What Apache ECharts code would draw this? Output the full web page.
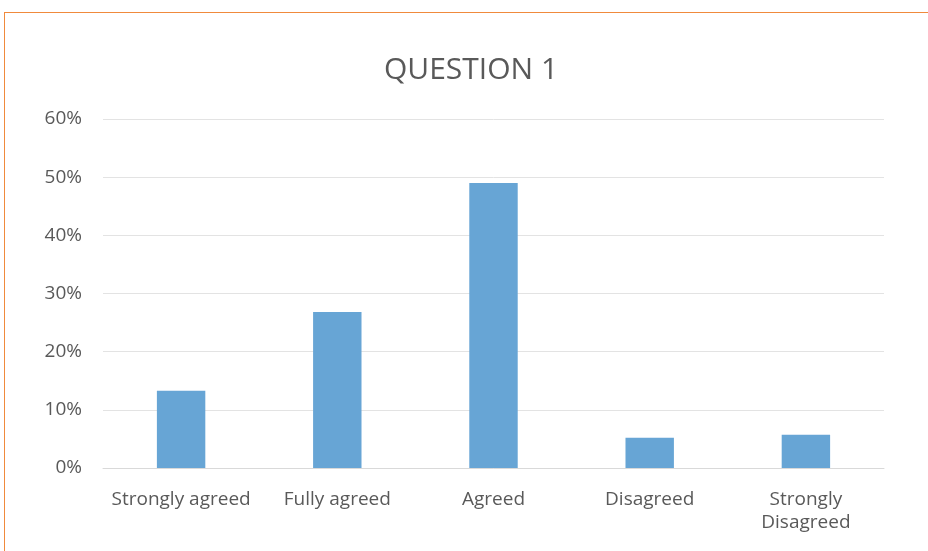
<!DOCTYPE html>
<html>
<head>
<meta charset="utf-8">
<script src="https://cdn.jsdelivr.net/npm/echarts@6/dist/echarts.min.js"></script>
<style>
  html, body { margin: 0; padding: 0; background: #fff; }
  #frame {
    position: absolute; left: 4px; top: 12px; width: 940px; height: 560px;
    border-left: 1.5px solid #f08a3c; border-top: 1.5px solid #f08a3c;
  }
  #chart { position: absolute; left: 0; top: 0; width: 928px; height: 551px; }
</style>
</head>
<body>
<div id="frame"></div>
<div id="chart"></div>
<script>
// answers to question 1, share of respondents
const categories = ['Strongly agreed', 'Fully agreed', 'Agreed', 'Disagreed', 'Strongly\nDisagreed']
const shares = [13.3, 26.8, 49.0, 5.2, 5.7]
const yTicks = [0, 10, 20, 30, 40, 50, 60]

const labelColor = '#595959'
const font = '"Open Sans", sans-serif'

const chart = echarts.init(document.getElementById('chart'))
chart.setOption({
  animation: false,
  title: {
    text: 'QUESTION 1',
    left: 466,
    top: 50,
    textAlign: 'center',
    textStyle: { color: labelColor, fontFamily: font, fontSize: 30, fontWeight: 'normal' }
  },
  grid: { left: 103, right: 44, top: 119, bottom: 83 },
  xAxis: {
    type: 'category',
    data: categories,
    axisTick: { show: false },
    axisLine: { lineStyle: { color: '#d9d9d9', width: 1 } },
    axisLabel: { color: labelColor, fontFamily: font, fontSize: 19, margin: 20, lineHeight: 23, interval: 0 }
  },
  yAxis: {
    type: 'value',
    min: yTicks[0],
    max: yTicks[yTicks.length - 1],
    interval: 10,
    axisLine: { show: false },
    axisTick: { show: false },
    splitLine: { lineStyle: { color: '#e3e3e3', width: 1 } },
    axisLabel: { color: labelColor, fontFamily: font, fontSize: 19, margin: 21, padding: [6, 0, 0, 0], formatter: '{value}%' }
  },
  series: [{
    type: 'bar',
    data: shares,
    barWidth: '31%',
    itemStyle: { color: '#67a5d5' }
  }]
})
</script>
</body>
</html>
